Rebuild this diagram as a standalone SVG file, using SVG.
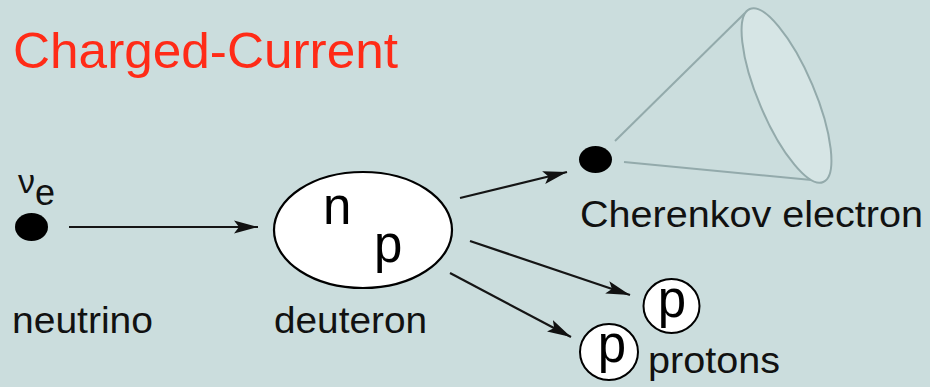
<svg xmlns="http://www.w3.org/2000/svg" width="930" height="387" viewBox="0 0 930 387">
  <style>
    .lbl { font-family: "Liberation Sans", Arial, sans-serif; fill: #111; }
    .big { font-family: "Liberation Sans", Arial, sans-serif; fill: #000; font-size: 51px; }
    .conn { stroke: #151515; stroke-width: 2.2; fill: none; marker-end: url(#head); }
    .cone { stroke: #93aaab; stroke-width: 2; fill: none; }
  </style>
  <defs>
    <marker id="head" markerUnits="userSpaceOnUse" markerWidth="26" markerHeight="14" refX="24" refY="7" orient="auto">
      <path d="M0,0.5 L24,7 L0,13.5 L5,7 Z" fill="#111"/>
    </marker>
  </defs>

  <!-- background -->
  <rect x="0" y="0" width="930" height="387" fill="#cbdddd"/>

  <!-- title -->
  <text x="13" y="68" font-family="Liberation Sans, Arial, sans-serif" font-size="50" fill="#ff2b17" textLength="385" lengthAdjust="spacingAndGlyphs">Charged-Current</text>

  <!-- neutrino -->
  <g id="neutrino">
    <ellipse cx="31.5" cy="227" rx="16.5" ry="14" fill="#000"/>
    <text class="lbl" x="18" y="193" font-size="34">ν</text>
    <text class="lbl" x="35" y="205" font-size="36">e</text>
    <text class="lbl" x="12" y="333" font-size="37" textLength="141" lengthAdjust="spacingAndGlyphs">neutrino</text>
  </g>

  <!-- deuteron -->
  <g id="deuteron">
    <ellipse cx="363" cy="230" rx="89" ry="58" fill="#fff" stroke="#000" stroke-width="2.2"/>
    <text class="big" x="323" y="224">n</text>
    <text class="big" x="374" y="262">p</text>
    <text class="lbl" x="274" y="333" font-size="37" textLength="153" lengthAdjust="spacingAndGlyphs">deuteron</text>
  </g>

  <!-- electron with Cherenkov cone -->
  <g id="electron">
    <line class="cone" x1="615" y1="141" x2="745" y2="13"/>
    <line class="cone" x1="624" y1="162" x2="822" y2="181"/>
    <ellipse cx="786.5" cy="95.5" rx="94" ry="28" transform="rotate(67 786.5 95.5)" fill="#d6e5e5" stroke="#93aaab" stroke-width="2"/>
    <ellipse cx="595.5" cy="159.5" rx="16.5" ry="13.5" fill="#000"/>
    <text class="lbl" x="580" y="227" font-size="37" textLength="343" lengthAdjust="spacingAndGlyphs">Cherenkov electron</text>
  </g>

  <!-- protons -->
  <g id="protons">
    <ellipse cx="671.5" cy="306" rx="28" ry="27" fill="#fff" stroke="#000" stroke-width="2"/>
    <text class="big" x="672" y="317" text-anchor="middle" font-size="48">p</text>
    <ellipse cx="609" cy="352" rx="29" ry="28" fill="#fff" stroke="#000" stroke-width="2"/>
    <text class="big" x="612" y="362" text-anchor="middle" font-size="48">p</text>
    <text class="lbl" x="648" y="373" font-size="37" textLength="132" lengthAdjust="spacingAndGlyphs">protons</text>
  </g>

  <!-- connectors -->
  <g id="connectors">
    <line class="conn" x1="69" y1="227" x2="258" y2="227"/>
    <line class="conn" x1="460" y1="198" x2="567" y2="172"/>
    <line class="conn" x1="470" y1="241" x2="630" y2="295"/>
    <line class="conn" x1="450" y1="273" x2="571" y2="337"/>
  </g>
</svg>
